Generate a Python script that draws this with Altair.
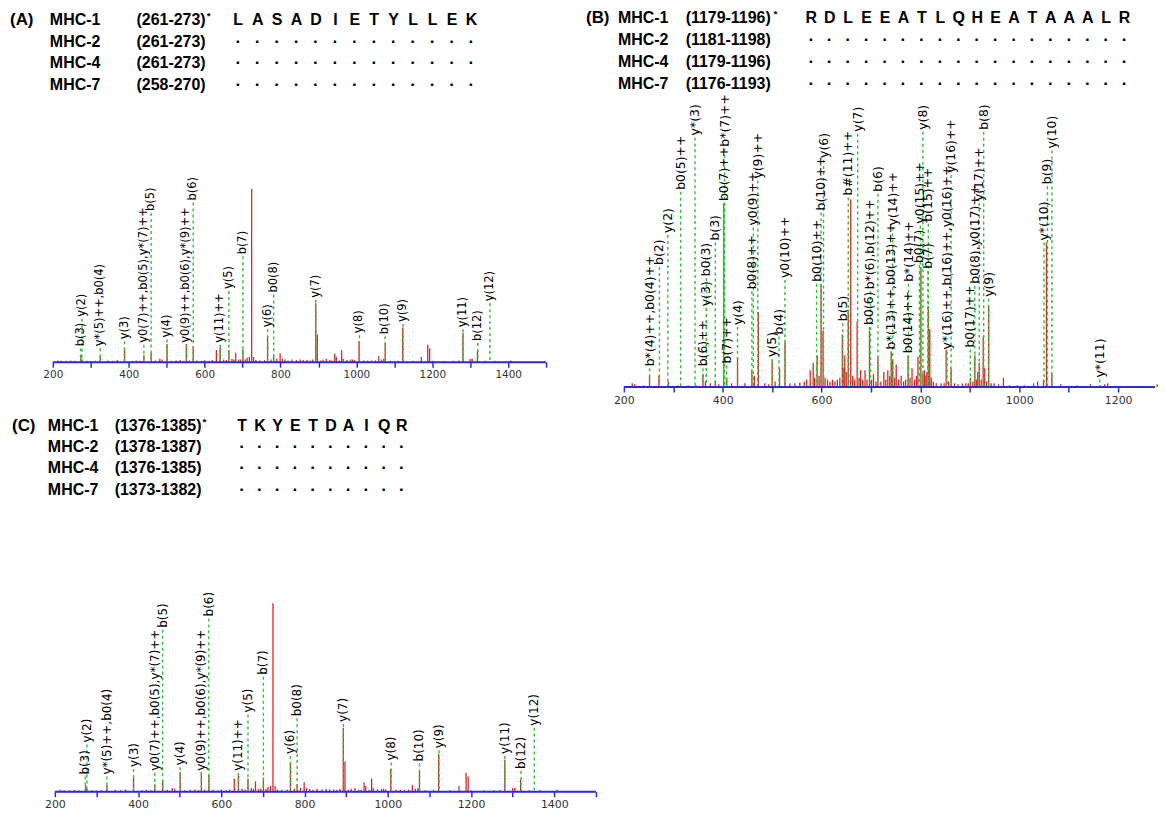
import altair as alt
import pandas as pd

# ---------------- header data ----------------
A_tag = "(A)"
B_tag = "(B)"
C_tag = "(C)"
MHC_names = ["MHC-1", "MHC-2", "MHC-4", "MHC-7"]
A_ranges = ["(261-273)", "(261-273)", "(261-273)", "(258-270)"]
B_ranges = ["(1179-1196)", "(1181-1198)", "(1179-1196)", "(1176-1193)"]
C_ranges = ["(1376-1385)", "(1378-1387)", "(1376-1385)", "(1373-1382)"]
A_seq = list("LASADIETYLLEK")
B_seq = list("RDLEEATLQHEATAAALR")
C_seq = list("TKYETDAIQR")

# ---------------- spectrum used in panels A and C ----------------
AC_peak_mz = [274, 277, 325, 389, 440, 459, 482, 501, 552, 570, 631, 641, 664, 682, 701,
              712, 718, 724, 729, 766, 782, 799, 805, 893, 897, 921, 943, 947, 961, 965,
              1007, 1059, 1076, 1122, 1171, 1188, 1193, 1281, 1300, 1319, 1407,
              213, 222, 236, 247, 258, 290, 300, 312, 345, 358, 370, 410, 420, 430, 470,
              488, 512, 525, 536, 545, 560, 580, 592, 600, 612, 620, 650, 657, 672, 677,
              690, 695, 707, 735, 745, 758, 775, 790, 812, 820, 830, 842, 852, 860, 870,
              878, 885, 905, 912, 930, 936, 955, 975, 985, 990, 995, 1020, 1030, 1040,
              1050, 1066, 1072, 1090, 1110, 1150, 1200, 1230, 1255, 1270, 1305, 1340, 1365]
AC_peak_int = [3.5, 1.5, 3.5, 7.5, 4, 5.5, 2, 10.5, 10.5, 9, 7, 8.5, 7, 5.5, 7.5,
               2.5, 3, 100, 3, 15, 4, 5, 2, 34, 16, 2, 5, 3, 7, 2,
               12, 3.5, 11, 20, 3, 10, 8, 17, 2, 6.5, 1,
               1, 0.8, 0.8, 1, 0.8, 0.8, 0.7, 0.8, 1, 0.8, 1.2, 0.8, 1, 0.8, 1,
               1.5, 0.8, 1, 1.2, 0.8, 1, 1, 0.8, 1.2, 0.8, 1.2, 1.5, 1.2, 2, 1.5,
               1.5, 1.5, 1.5, 1.2, 1, 1.2, 1.5, 2, 1.5, 1, 1.5, 1.2, 1.5, 1.2, 1.2,
               1, 1.5, 1, 1.5, 1.2, 1, 1, 1.2, 1.5, 1.5, 1.2, 1, 1, 1,
               1, 1.5, 2, 0.8, 0.8, 0.8, 0.8, 0.7, 0.8, 1, 2, 0.8, 0.8]
AC_ion_mz = [273, 277, 325, 389, 440, 459, 501, 552, 570, 641, 664, 701, 766, 782,
             893, 1008, 1076, 1123, 1281, 1320, 1352]
AC_ion_label = ["b(3)", "y(2)", "y*(5)++,b0(4)", "y(3)", "y0(7)++,b0(5),y*(7)++", "b(5)",
                "y(4)", "y0(9)++,b0(6),y*(9)++", "b(6)", "y(11)++", "y(5)", "b(7)", "y(6)",
                "b0(8)", "y(7)", "y(8)", "b(10)", "y(9)", "y(11)", "b(12)", "y(12)"]
AC_ion_base = [8, 25, 8, 12, 10, 86, 13, 10, 92, 10, 41, 61, 19, 39, 36, 15.5, 15, 22,
               19, 11, 34]

# ---------------- spectrum of panel B ----------------
B_peak_mz = [217, 222, 240, 252, 271, 290, 310, 330, 346, 360, 365, 375, 385, 392, 408,
             418, 430, 445, 459, 464, 472, 485, 493, 500, 506, 515, 526, 536, 546, 556,
             565, 570, 577, 583, 586, 591, 595, 599, 603, 607, 612, 617, 622, 627, 632,
             637, 642, 645, 647, 650, 654, 659, 663, 667, 672, 676, 679, 683, 688, 692,
             697, 701, 705, 710, 714, 720, 726, 730, 734, 738, 741, 744, 748, 751, 756,
             761, 766, 770, 775, 779, 783, 788, 792, 795, 801, 805, 808, 811, 813, 816,
             819, 822, 826, 832, 842, 848, 852, 857, 862, 869, 876, 885, 892, 897, 901,
             906, 910, 913, 916, 919, 923, 927, 930, 934, 938, 943, 949, 958, 968, 980,
             996, 1010, 1029, 1037, 1049, 1055, 1066, 1084, 1117, 1144, 1163, 1173, 1179,
             1279]
B_peak_int = [2, 1.5, 1, 6, 6, 3, 1, 1, 1, 7, 3, 2, 3, 1.5, 5,
              2, 16, 2, 8.5, 6, 40, 2, 1.5, 14, 3, 10, 24, 2, 2, 2.5,
              3, 4, 9, 13, 5, 17, 6, 55, 30, 5, 4, 3, 4, 3, 4,
              5, 28, 10, 17, 8, 40, 100, 6, 4, 35, 5, 9, 4, 9, 4,
              30, 4, 7, 3, 16, 3, 8, 4, 9, 6, 19, 14, 5, 12, 4,
              6, 3, 4, 16, 5, 10, 4, 6, 16, 64, 7, 9, 6, 8, 43,
              31, 5, 3, 2, 2, 2, 20, 3, 10, 2, 1.5, 2, 2, 2, 5,
              3, 17, 4, 8, 13, 4, 27, 10, 3, 43, 2, 2, 1.5, 5, 1,
              1, 1, 2, 3, 4, 77, 7, 1.5, 1, 1.5, 1, 1.5, 2,
              1.5]
B_green_mz = [402]
B_green_int = [98]
B_ion_mz = [252, 272, 289, 315, 344, 360, 367, 367, 385, 402, 404, 408, 430, 459, 462,
            471, 500, 514, 526, 590, 599, 604, 643, 654, 673, 697, 699, 714, 741, 744,
            775, 776, 798, 800, 805, 815, 816, 854, 862, 901, 910, 919, 928, 938, 1050,
            1057, 1066, 1163]
B_ion_label = ["b*(4)++,b0(4)++", "b(2)", "y(2)", "b0(5)++", "y*(3)", "b(6)++", "y(3)",
               "b0(3)", "b(3)", "b0(7)++", "b*(7)++", "b(7)++", "y(4)", "b0(8)++",
               "y0(9)++", "y(9)++", "y(5)", "b(4)", "y0(10)++", "b0(10)++", "b(10)++",
               "y(6)", "b(5)", "b#(11)++", "y(7)", "b0(6)", "b*(6),b(12)++", "b(6)",
               "b*(13)++,b0(13)++", "y(14)++", "b0(14)++", "b*(14)++", "b0(7)",
               "y0(15)++", "y(8)", "b(7)", "b(15)++", "y*(16)++,b(16)++,y0(16)++",
               "y(16)++", "b0(17)++", "b0(8),y0(17)++", "y(17)++", "b(8)", "y(9)",
               "y*(10)", "b(9)", "y(10)", "y*(11)"]
B_ion_base = [10, 64, 81, 104, 133, 10, 42, 58, 77, 98, 127, 11.5, 32, 51, 85,
              110, 15, 27, 57, 55, 93, 121, 34, 101, 135, 32, 51, 103, 19, 85,
              17, 55, 65, 86, 136, 62, 87, 19, 113, 20, 54, 98, 136, 47, 77,
              107, 126, 4]

# ---------------- styling ----------------
RED = "#d62828"
GREEN = "#2fbf2f"
BLUE = "#2a2ad6"
HFONT = "Liberation Sans"
LFONT = "DejaVu Sans"
HSIZE = 16
# approximate advance widths (em) of Liberation Sans Bold, used to place the superscript star
ADV = {"(": 0.333, ")": 0.333, "-": 0.333}


def text_width(s, size):
    return sum(ADV.get(c, 0.556) for c in s) * size


def header(tag, names, ranges, seq, tag_x, name_x, range_x, seq_x0, seq_dx, y0, dy):
    left, cent = [], []
    left.append(dict(t=tag, x=tag_x, y=y0, s=17))
    for r, (n, rg) in enumerate(zip(names, ranges)):
        y = y0 + r * dy
        left.append(dict(t=n, x=name_x, y=y, s=HSIZE))
        left.append(dict(t=rg, x=range_x, y=y, s=HSIZE))
        if r == 0:
            left.append(dict(t="*", x=range_x + text_width(rg, HSIZE) + 1, y=y - 4, s=10))
        for i, ch in enumerate(seq):
            cent.append(dict(t=ch if r == 0 else "\u00b7", x=seq_x0 + i * seq_dx, y=y,
                             s=HSIZE if r == 0 else 17))
    enc = dict(x=alt.X("x:Q", scale=None), y=alt.Y("y:Q", scale=None),
               text="t:N", size=alt.Size("s:Q", scale=None, legend=None))
    l1 = alt.Chart(pd.DataFrame(left)).mark_text(
        align="left", baseline="middle", font=HFONT, fontWeight="bold", color="black"
    ).encode(**enc)
    l2 = alt.Chart(pd.DataFrame(cent)).mark_text(
        align="center", baseline="middle", font=HFONT, fontWeight="bold", color="black"
    ).encode(**enc)
    return alt.layer(l1, l2)


def spectrum(pk_mz, pk_int, ion_mz, ion_lab, ion_base, xdom, axis_end, ymax,
             label_max, axis_fs, ion_fs, green=None):
    ticks = [v for v in range(200, 1501, 100) if v <= axis_end]
    ax = alt.Axis(values=ticks,
                  labelExpr=f"datum.value % 200 == 0 && datum.value <= {label_max} ? format(datum.value, 'd') : ''",
                  domain=False, grid=False, tickSize=5, tickColor=BLUE, tickWidth=1.5,
                  labelFont=LFONT, labelFontSize=axis_fs, labelColor="#333333",
                  labelPadding=2, title=None)
    xs = alt.Scale(domain=xdom, nice=False, zero=False)
    ys = alt.Scale(domain=[0, ymax], nice=False)

    def X(f="mz"):
        return alt.X(f"{f}:Q", scale=xs, axis=ax)

    def Y(f):
        return alt.Y(f"{f}:Q", scale=ys, axis=None)

    pk = pd.DataFrame({"mz": pk_mz, "v": pk_int, "z": 0.0})
    ions = pd.DataFrame({"mz": ion_mz, "lab": ion_lab, "base": ion_base, "z": 0.0})
    base = pd.DataFrame({"mz": [200], "mz2": [axis_end], "z": [0.0]})

    layers = [
        alt.Chart(pk).mark_rule(color=RED, strokeWidth=1.3).encode(
            x=X(), y=Y("v"), y2="z"),
    ]
    if green is not None:
        g = pd.DataFrame({"mz": green[0], "v": green[1], "z": 0.0})
        layers.append(alt.Chart(g).mark_rule(color=GREEN, strokeWidth=1.6).encode(
            x=X(), y=Y("v"), y2="z"))
    layers += [
        alt.Chart(ions).mark_rule(color=GREEN, strokeWidth=1.4, strokeDash=[3, 3]).encode(
            x=X(), y=Y("base"), y2="z"),
        alt.Chart(ions).mark_text(angle=270, align="left", baseline="middle", dx=2,
                                  font=LFONT, fontSize=ion_fs, color="black").encode(
            x=X(), y=Y("base"), text="lab:N"),
        alt.Chart(base).mark_rule(color=BLUE, strokeWidth=2).encode(
            x=X(), x2="mz2", y=Y("z")),
    ]
    return alt.layer(*layers)


def panel(hdr, spec, w, h):
    return alt.layer(hdr, spec).resolve_scale(x="independent", y="independent").properties(
        width=w, height=h)


hA = header(A_tag, MHC_names, A_ranges, A_seq, 2, 42, 129, 231, 19.5, 11, 21.5)
sA = spectrum(AC_peak_mz, AC_peak_int, AC_ion_mz, AC_ion_label, AC_ion_base,
              [81.9, 1500], 1500, 203.4, 1400, 10.5, 11.5)
pA = panel(hA, sA, 540, 354)

hB = header(B_tag, MHC_names, B_ranges, B_seq, 0, 32, 100, 226, 18.5, 9, 22)
sB = spectrum(B_peak_mz, B_peak_int, B_ion_mz, B_ion_label, B_ion_base,
              [123.4, 1274.6], 1274.6, 201.2, 1200, 11, 12.5,
              green=(B_green_mz, B_green_int))
pB = panel(hB, sB, 571, 379)

hC = header(C_tag, MHC_names, C_ranges, C_seq, 4, 40, 107, 235, 17.8, 17, 21.3)
sC = spectrum(AC_peak_mz, AC_peak_int, AC_ion_mz, AC_ion_label, AC_ion_base,
              [87.4, 1500], 1500, 203.2, 1400, 11, 12)
pC = panel(hC, sC, 590, 384)

chart = alt.vconcat(
    alt.hconcat(pA, pB, spacing=39),
    pC,
    spacing=4,
).properties(padding=0).configure_view(stroke=None)

chart.save("out.html", embed_options={"renderer": "svg", "actions": False})
